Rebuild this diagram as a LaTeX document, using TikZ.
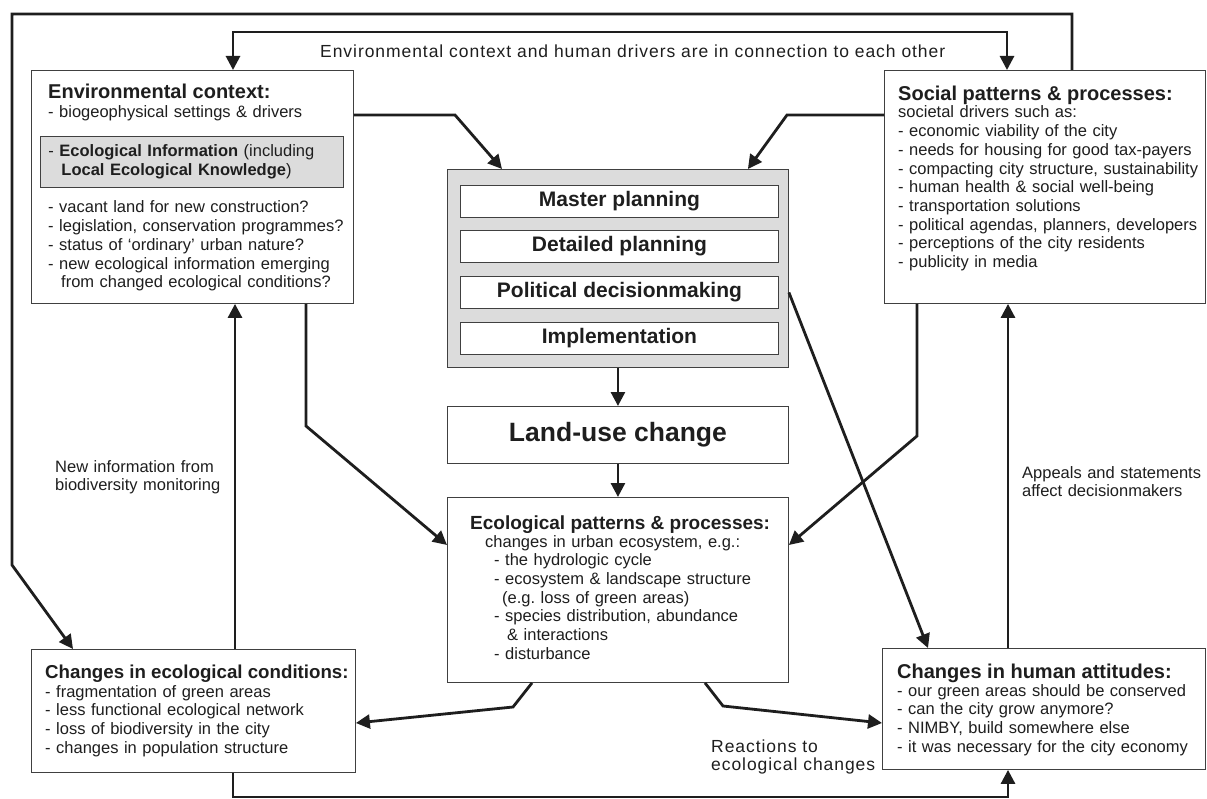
\documentclass[tikz,border=0pt]{standalone}
\usepackage{fontspec}
\setmainfont{Liberation Sans}
\usepackage{xcolor}
\definecolor{mgray}{HTML}{DCDCDC}
\definecolor{mdark}{HTML}{1E1E1E}
\usepackage{tikz}
\usetikzlibrary{arrows.meta}

\begin{document}
\begin{tikzpicture}[x=1pt, y=-1pt,
    box/.style={draw=black!75, line width=0.9pt, fill=white, inner sep=0pt, anchor=north west, text=mdark},
    graybox/.style={box, fill=mgray},
    rowbox/.style={box, minimum width=318pt, minimum height=32pt, font=\fontsize{21}{24}\selectfont\bfseries},
    title/.style={anchor=base west, inner sep=0pt, text=mdark, font=\fontsize{#1}{22}\selectfont\bfseries},
    title/.default=19,
    body/.style={anchor=base west, inner sep=0pt, text width=#1, align=left, text=mdark, font=\fontsize{16.5}{18.7}\selectfont},
    body/.default=300pt,
    spaced/.style={body=#1, font=\fontsize{17.5}{18.7}\selectfont\addfontfeature{LetterSpace=5.4}},
    conn/.style={draw=mdark, line width=2.8pt, -{Triangle[length=14pt,width=14pt]}},
    conntwo/.style={draw=mdark, line width=2.8pt, {Triangle[length=14pt,width=14pt]}-{Triangle[length=14pt,width=14pt]}}]

    \useasboundingbox (0,0) rectangle (1207,799);

    \node[box, minimum width=322pt, minimum height=233pt] (env) at (31,70) {};
    \node[title=20] (envtitle) at (48,99) {Environmental context:};
    \node[body] (envtop) at (48,118) {- biogeophysical settings \& drivers};
    \node[graybox, minimum height=51pt, text width=287pt, inner xsep=8pt, align=left,
          font=\fontsize{16.5}{18.7}\selectfont] (ecoinfo) at (40,136)
          {- \textbf{Ecological Information} (including\\\hspace*{13pt}\textbf{Local Ecological Knowledge})};
    \node[body] (envq) at (48,213) {- vacant land for new construction?\\- legislation, conservation programmes?\\- status of ‘ordinary’ urban nature?\\- new ecological information emerging\\\hspace*{13pt}from changed ecological conditions?};

    \node[box, minimum width=321pt, minimum height=233pt] (social) at (884,70) {};
    \node[title=20] (soctitle) at (898,101) {Social patterns \& processes:};
    \node[body] (socbody) at (898,118) {societal drivers such as:\\- economic viability of the city\\- needs for housing for good tax-payers\\- compacting city structure, sustainability\\- human health \& social well-being\\- transportation solutions\\- political agendas, planners, developers\\- perceptions of the city residents\\- publicity in media};

    \node[graybox, minimum width=341pt, minimum height=198pt] (plan) at (447,169) {};
    \node[rowbox] (master) at (460,185) {Master planning};
    \node[rowbox] (detailed) at (460,230) {Detailed planning};
    \node[rowbox] (political) at (460,276) {Political decisionmaking};
    \node[rowbox] (implement) at (460,322) {Implementation};

    \node[box, minimum width=341pt, minimum height=57pt, font=\fontsize{26.5}{30}\selectfont\bfseries] (landuse) at (447,406) {Land-use change};

    \node[box, minimum width=341pt, minimum height=185pt] (eco) at (447,497) {};
    \node[title] (ecotitle) at (470,529) {Ecological patterns \& processes:};
    \node[body] (ecobody) at (485,547) {changes in urban ecosystem, e.g.:\\\hspace*{9pt}- the hydrologic cycle\\\hspace*{9pt}- ecosystem \& landscape structure\\\hspace*{17pt}(e.g.\ loss of green areas)\\\hspace*{9pt}- species distribution, abundance\\\hspace*{22pt}\& interactions\\\hspace*{9pt}- disturbance};

    \node[box, minimum width=324pt, minimum height=123pt] (ecochg) at (31,649) {};
    \node[title=18.7] (chgtitle) at (45,678) {Changes in ecological conditions:};
    \node[body] (chgbody) at (45,697) {- fragmentation of green areas\\- less functional ecological network\\- loss of biodiversity in the city\\- changes in population structure};

    \node[box, minimum width=323pt, minimum height=121pt] (attitude) at (882,648) {};
    \node[title=20] (atttitle) at (897,678) {Changes in human attitudes:};
    \node[body] (attbody) at (897,696) {- our green areas should be conserved\\- can the city grow anymore?\\- NIMBY, build somewhere else\\- it was necessary for the city economy};

    \node[spaced=660pt] (toplbl) at (320,58) {Environmental context and human drivers are in connection to each other};
    \node[body=200pt] (newinfo) at (55,472) {New information from\\biodiversity monitoring};
    \node[body=200pt] (appeals) at (1022,478) {Appeals and statements\\affect decisionmakers};
    \node[spaced=200pt] (reactions) at (711,752) {Reactions to\\ecological changes};

    \coordinate (o1) at (1072,14);
    \coordinate (o2) at (12,14);
    \coordinate (o3) at (12,565);
    \draw[conn] (o1 |- social.north) -- (o1) -- (o2) -- (o3) -- ([xshift=42pt]ecochg.north west);

    \coordinate (t1) at (233,32);
    \coordinate (t2) at (1007,32);
    \draw[conntwo] (t1 |- env.north) -- (t1) -- (t2) -- (t2 |- social.north);

    \coordinate (kL1) at (455,115);
    \coordinate (kR1) at (787,115);
    \draw[conn] (env.east |- kL1) -- (kL1) -- ([xshift=55pt]plan.north west);
    \draw[conn] (social.west |- kR1) -- (kR1) -- ([xshift=-41pt]plan.north east);

    \draw[conn] (plan.south) -- (landuse.north);
    \draw[conn] (landuse.south) -- (eco.north);

    \coordinate (kL2) at (306,426);
    \coordinate (kR2) at (917,436);
    \draw[conn] (kL2 |- env.south) -- (kL2) -- ([yshift=-48pt]eco.north west);
    \draw[conn] (kR2 |- social.south) -- (kR2) -- ([yshift=-48pt]eco.north east);

    \draw[conn] (political.east -| plan.east) -- ([xshift=46pt]attitude.north west);

    \coordinate (u1) at (235,0);
    \coordinate (u2) at (1008,0);
    \draw[conn] (u1 |- ecochg.north) -- (u1 |- env.south);
    \draw[conn] (u2 |- attitude.north) -- (u2 |- social.south);

    \coordinate (b1) at (233,797);
    \coordinate (b2) at (1008,797);
    \draw[conn] (b1 |- ecochg.south) -- (b1) -- (b2) -- (b2 |- attitude.south);

    \coordinate (kB1) at (513,707);
    \coordinate (kB2) at (723,706);
    \draw[conn] ([xshift=85pt]eco.south west) -- (kB1) -- ([yshift=-74pt]ecochg.north east);
    \draw[conn] ([xshift=258pt]eco.south west) -- (kB2) -- ([yshift=-75pt]attitude.north west);

\end{tikzpicture}
\end{document}
